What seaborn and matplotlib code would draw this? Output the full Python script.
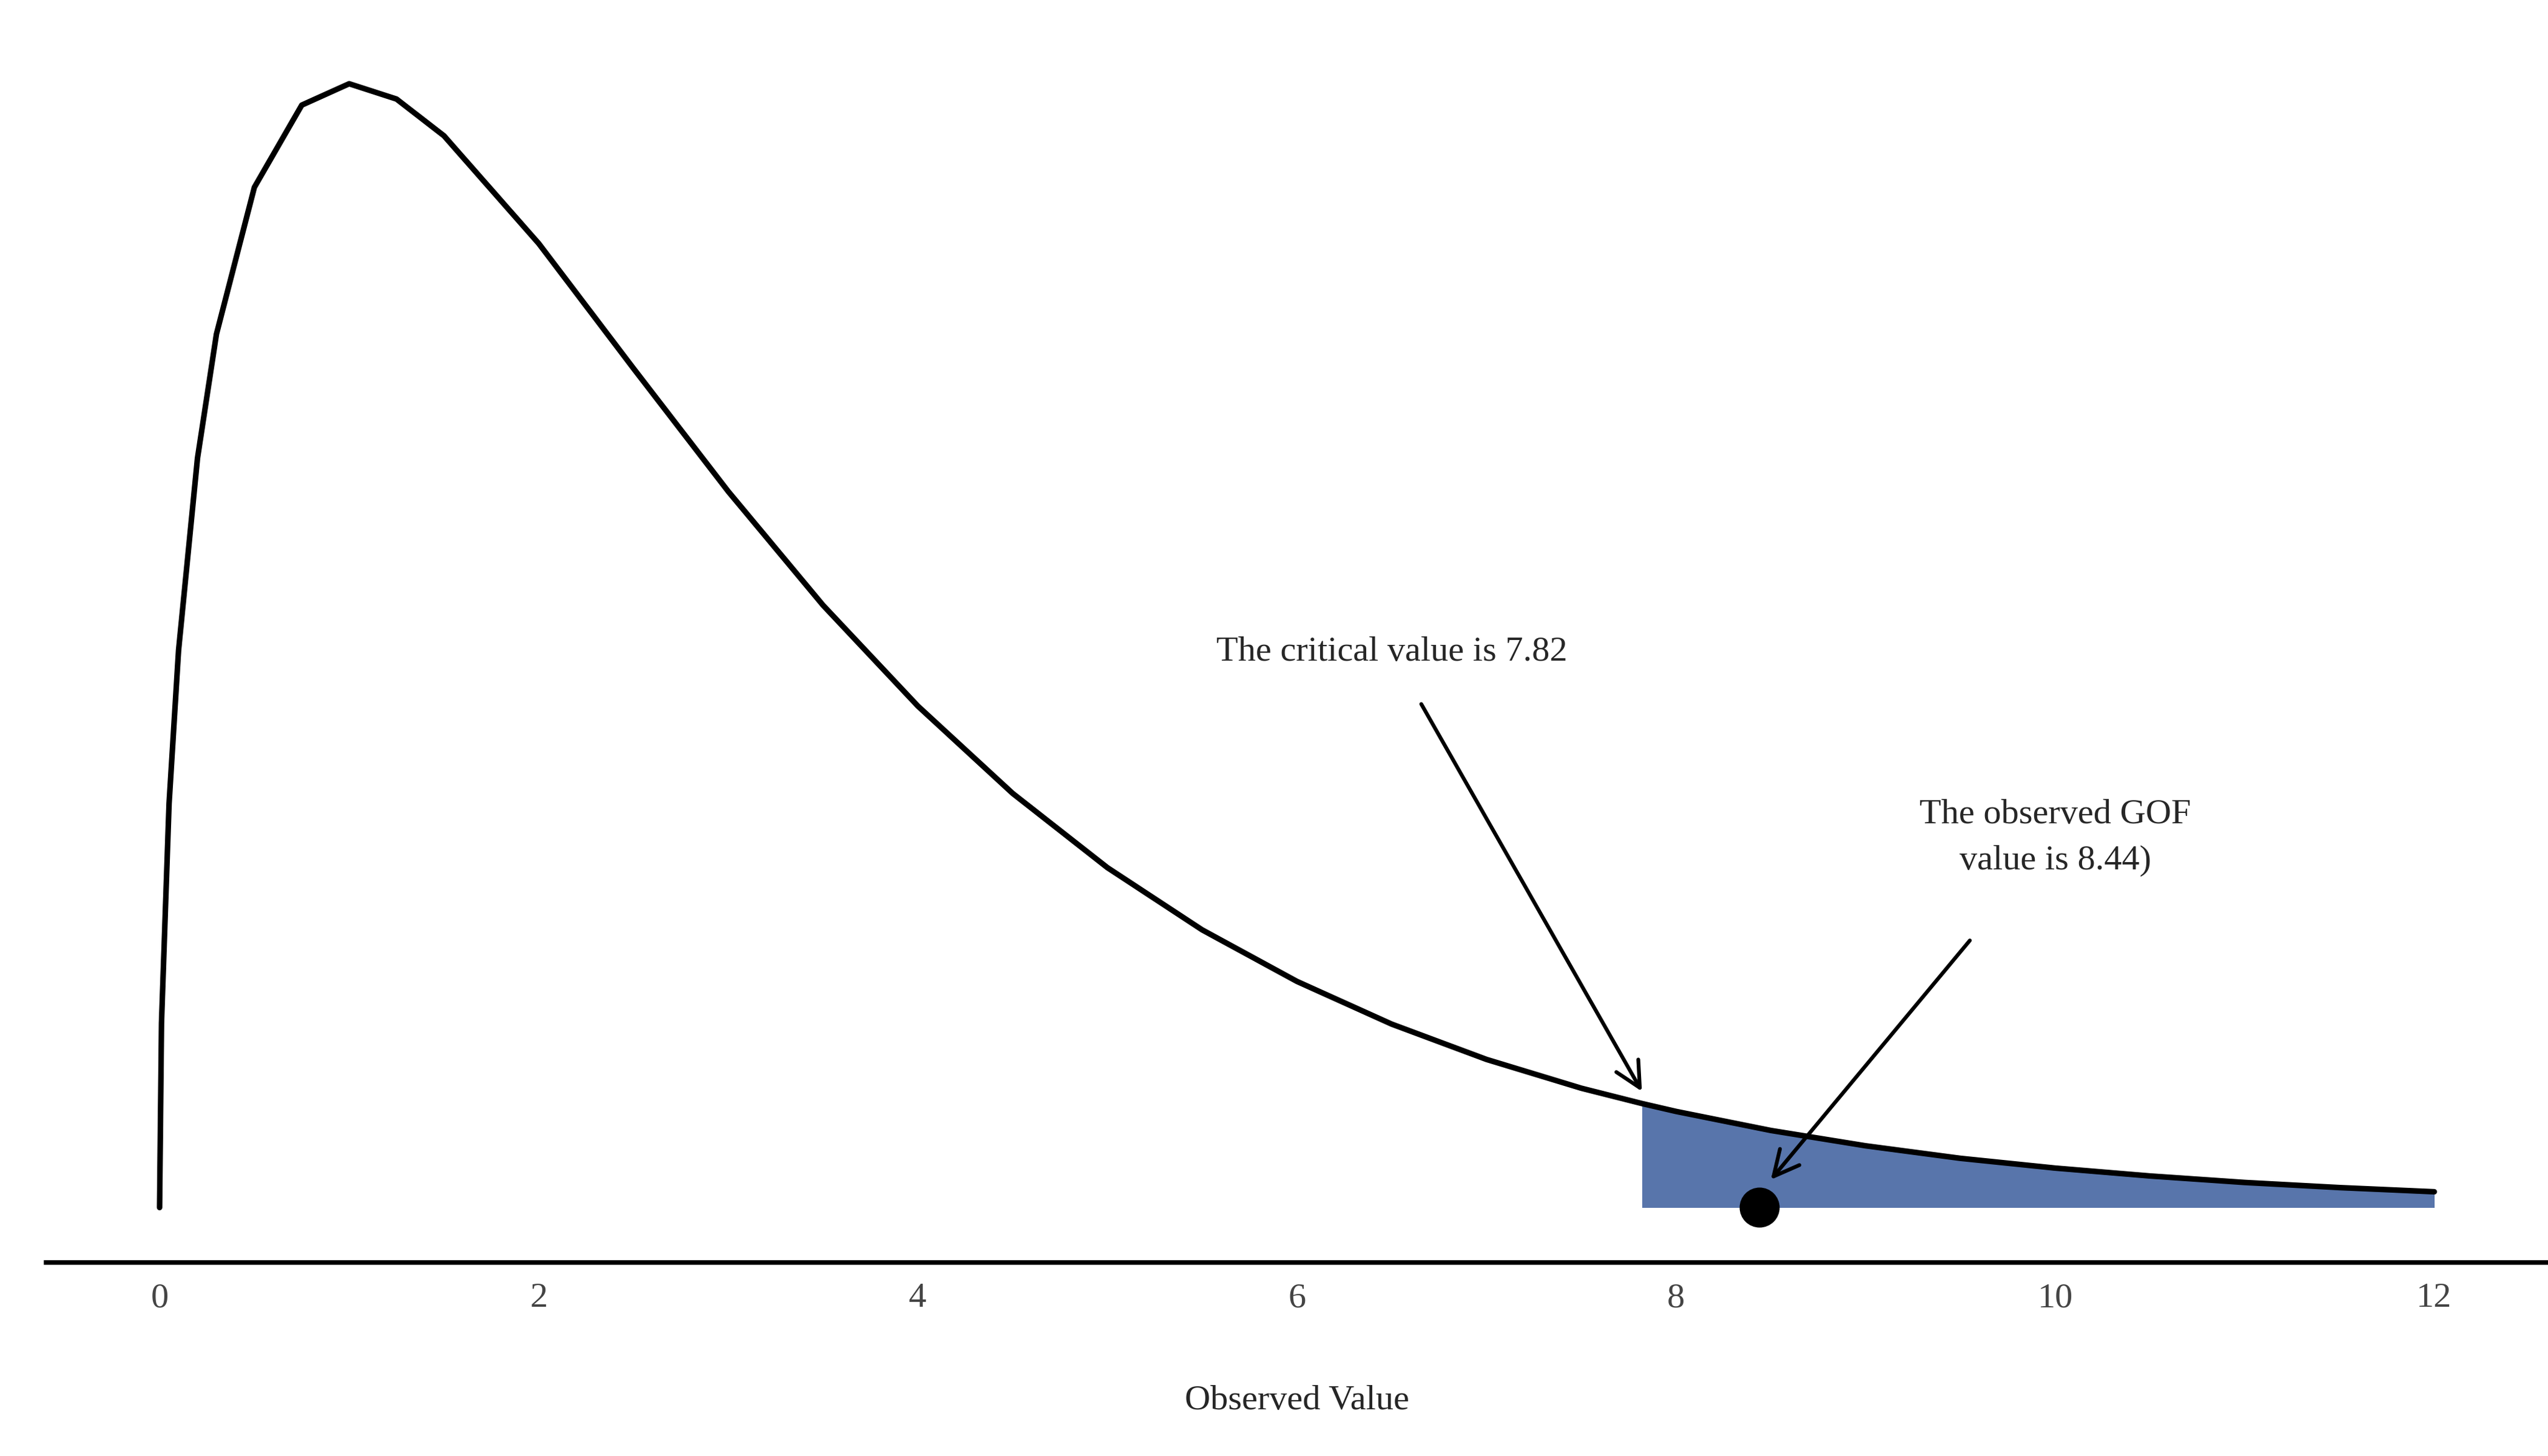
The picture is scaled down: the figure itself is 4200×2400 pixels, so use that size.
import matplotlib.pyplot as plt
import seaborn as sns
import numpy as np
import pandas as pd

# values (chi-square density, 3 df)
x_vals = [0, 0.01, 0.05, 0.1, 0.2, 0.3, 0.5, 0.75, 1, 1.25, 1.5, 2, 2.5, 3, 3.5, 4,
          4.5, 5, 5.5, 6, 6.5, 7, 7.5, 7.82, 8, 8.5, 9, 9.5, 10, 10.5, 11, 11.5, 12]
density = [0, 0.0397, 0.0870, 0.1200, 0.1614, 0.1881, 0.2197, 0.2374, 0.2420, 0.2387,
           0.2308, 0.2076, 0.1807, 0.1542, 0.1297, 0.1080, 0.0892, 0.0732, 0.0598,
           0.0487, 0.0395, 0.0319, 0.0257, 0.0224, 0.0207, 0.0166, 0.0133, 0.0106,
           0.0085, 0.0068, 0.0054, 0.0043, 0.0034]
critical_value = 7.82
observed_value = 8.44
x_ticks = [0, 2, 4, 6, 8, 10, 12]

df = pd.DataFrame({'x': x_vals, 'y': density})
tail = df[df['x'] >= critical_value]

sns.set_theme(style='white')
plt.rcParams['font.family'] = ['Liberation Serif', 'DejaVu Serif']

fig = plt.figure(figsize=(14, 8), dpi=300)
ax = fig.add_axes([0.018, 0.133, 0.982, 0.835])

ax.fill_between(tail['x'], 0, tail['y'], color='#5875AB', linewidth=0, zorder=1)
sns.lineplot(data=df, x='x', y='y', color='black', linewidth=2.2, ax=ax, zorder=2)
ax.scatter([observed_value], [0], s=220, color='black', zorder=3)

ax.annotate('The critical value is 7.82', xy=(critical_value, 0.025), xytext=(6.5, 0.1196),
            ha='center', va='center', fontsize=14,
            arrowprops=dict(arrowstyle='->', color='black', lw=1.5, mutation_scale=25,
                            shrinkA=14, shrinkB=0))
ax.annotate('The observed GOF\nvalue is 8.44)', xy=(8.5, 0.006), xytext=(10.0, 0.0796),
            ha='center', va='center', fontsize=14, linespacing=1.6,
            arrowprops=dict(arrowstyle='->', color='black', lw=1.5, mutation_scale=25,
                            shrinkA=30, shrinkB=0))

ax.set_xlim(-0.6, 12.6)
ax.set_ylim(-0.0118, 0.25)
ax.set_xticks(x_ticks)
ax.set_xticklabels([str(t) for t in x_ticks], fontsize=14, color='#444444')
ax.tick_params(axis='x', length=0, pad=8)
ax.set_yticks([])
ax.set_ylabel('')
ax.set_xlabel('Observed Value', fontsize=14, labelpad=28)
for side in ['top', 'right', 'left']:
    ax.spines[side].set_visible(False)
ax.spines['bottom'].set_color('black')
ax.spines['bottom'].set_linewidth(1.8)

fig.savefig('out.png', dpi=300)
